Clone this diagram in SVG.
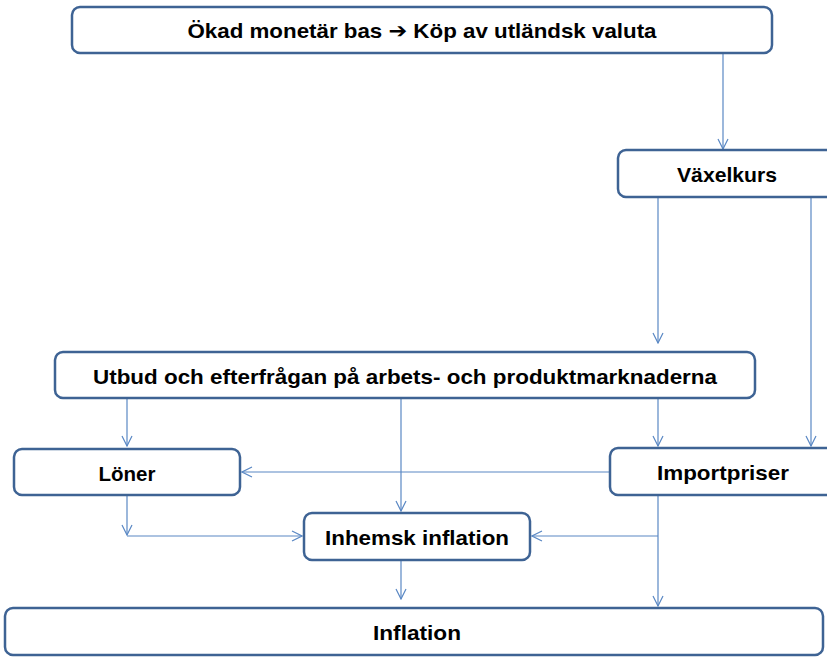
<svg xmlns="http://www.w3.org/2000/svg" width="827" height="657" viewBox="0 0 827 657">
  <style>
    .box { fill: #ffffff; stroke: #3e6394; stroke-width: 2.5; }
    .lbl { font-family: "Liberation Sans", Arial, sans-serif; font-weight: bold; font-size: 21px; fill: #000000; text-anchor: middle; }
    .sym { font-family: "DejaVu Sans", sans-serif; }
    .wire { fill: none; stroke: #5a88c4; stroke-width: 1.2; }
  </style>
  <defs>
    <marker id="arr" viewBox="0 0 12 12" refX="11" refY="6" markerWidth="12" markerHeight="12" markerUnits="userSpaceOnUse" orient="auto">
      <path d="M1,1 L11,6 L1,11" fill="none" stroke="#5a88c4" stroke-width="1.2"/>
    </marker>
  </defs>
  <rect width="827" height="657" fill="#ffffff"/>

  <g id="connectors">
    <line class="wire" x1="723" y1="53" x2="723" y2="149" marker-end="url(#arr)"/>
    <line class="wire" x1="658" y1="197" x2="658" y2="343" marker-end="url(#arr)"/>
    <line class="wire" x1="811" y1="197" x2="811" y2="446" marker-end="url(#arr)"/>
    <line class="wire" x1="127" y1="398" x2="127" y2="446" marker-end="url(#arr)"/>
    <line class="wire" x1="658" y1="398" x2="658" y2="446" marker-end="url(#arr)"/>
    <line class="wire" x1="401" y1="398" x2="401" y2="511" marker-end="url(#arr)"/>
    <line class="wire" x1="610" y1="472" x2="242" y2="472" marker-end="url(#arr)"/>
    <line class="wire" x1="127" y1="495" x2="127" y2="535" marker-end="url(#arr)"/>
    <line class="wire" x1="127" y1="536" x2="302" y2="536" marker-end="url(#arr)"/>
    <line class="wire" x1="658" y1="495" x2="658" y2="606" marker-end="url(#arr)"/>
    <line class="wire" x1="658" y1="536" x2="532" y2="536" marker-end="url(#arr)"/>
    <line class="wire" x1="401" y1="560" x2="401" y2="599" marker-end="url(#arr)"/>
  </g>

  <g id="monetary-base">
    <rect class="box" x="72" y="7" width="700" height="46" rx="8"/>
    <text class="lbl" x="422" y="38" textLength="469" lengthAdjust="spacingAndGlyphs">Ökad monetär bas <tspan class="sym">➔</tspan> Köp av utländsk valuta</text>
  </g>

  <g id="exchange-rate">
    <rect class="box" x="618" y="150" width="225" height="47" rx="8"/>
    <text class="lbl" x="727" y="182" textLength="100" lengthAdjust="spacingAndGlyphs">Växelkurs</text>
  </g>

  <g id="supply-demand">
    <rect class="box" x="55" y="352" width="700" height="46" rx="8"/>
    <text class="lbl" x="405" y="384" textLength="624" lengthAdjust="spacingAndGlyphs">Utbud och efterfrågan på arbets- och produktmarknaderna</text>
  </g>

  <g id="wages">
    <rect class="box" x="14" y="449" width="226" height="46" rx="8"/>
    <text class="lbl" x="127" y="481" textLength="57" lengthAdjust="spacingAndGlyphs">Löner</text>
  </g>

  <g id="import-prices">
    <rect class="box" x="610" y="448" width="230" height="47" rx="8"/>
    <text class="lbl" x="723" y="480" textLength="132" lengthAdjust="spacingAndGlyphs">Importpriser</text>
  </g>

  <g id="domestic-inflation">
    <rect class="box" x="304" y="513" width="226" height="47" rx="8"/>
    <text class="lbl" x="417" y="545" textLength="184" lengthAdjust="spacingAndGlyphs">Inhemsk inflation</text>
  </g>

  <g id="inflation">
    <rect class="box" x="5" y="608" width="818" height="47" rx="8"/>
    <text class="lbl" x="417" y="640" textLength="88" lengthAdjust="spacingAndGlyphs">Inflation</text>
  </g>
</svg>
